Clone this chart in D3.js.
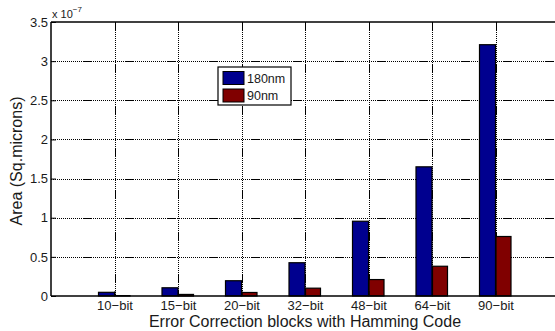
<!DOCTYPE html>
<html>
<head>
<meta charset="utf-8">
<script src="https://cdn.jsdelivr.net/npm/d3@7"></script>
<style>
  html, body { margin: 0; padding: 0; background: #fff; }
  svg { display: block; font-family: "Liberation Sans", Arial, Helvetica, sans-serif; }
</style>
</head>
<body>
<svg id="chart" width="555" height="331"></svg>
<script>
// Area of Hamming-code error correction blocks (units of 1e-7 sq. microns)
const categories = ["10\u2212bit", "15\u2212bit", "20\u2212bit", "32\u2212bit", "48\u2212bit", "64\u2212bit", "90\u2212bit"];
const seriesNames = ["180nm", "90nm"];
const area180 = [0.047, 0.105, 0.195, 0.425, 0.955, 1.65, 3.21];
const area90 = [0.005, 0.02, 0.045, 0.10, 0.21, 0.38, 0.76];
const yTicks = [0, 0.5, 1, 1.5, 2, 2.5, 3, 3.5];
const colors = ["#00008f", "#800000"];

const svg = d3.select("#chart");
const plotLeft = 51, plotTop = 22, plotBottom = 296;

// x positions follow bar indices 1..7 on a 0..8 range
const x = d3.scaleLinear().domain([0, 8]).range([plotLeft, plotLeft + 8 * 63.5]);
const y = d3.scaleLinear().domain([0, 3.5]).range([plotBottom, plotTop]);
const plotRight = x(8);

// dotted grid with a short dash every ~42px
const dotRun = d3.range(16).map(() => "1,1").join(",");
const gridDash = dotRun + ",9,1";
const gridDashV = "9,1," + dotRun;

const grid = svg.append("g").attr("stroke", "#000").attr("stroke-width", 1).attr("fill", "none");
grid.selectAll("line.h").data(yTicks.filter(v => v > 0 && v < 3.5)).join("line")
  .attr("class", "h")
  .attr("stroke-dasharray", gridDash)
  .attr("x1", plotLeft).attr("x2", plotRight)
  .attr("y1", d => Math.round(y(d)) + 0.5).attr("y2", d => Math.round(y(d)) + 0.5);
grid.selectAll("line.v").data(categories).join("line")
  .attr("class", "v")
  .attr("stroke-dasharray", gridDashV)
  .attr("x1", (d, i) => Math.round(x(i + 1)) + 0.5).attr("x2", (d, i) => Math.round(x(i + 1)) + 0.5)
  .attr("y1", plotTop).attr("y2", plotBottom);

// grouped bars
const bw = 16;
const series = [area180, area90];
series.forEach((vals, s) => {
  svg.append("g").selectAll("rect").data(vals).join("rect")
    .attr("x", (d, i) => x(i + 1) + (s === 0 ? -bw : 0.5))
    .attr("y", d => y(d))
    .attr("width", s === 0 ? bw : bw - 1)
    .attr("height", d => plotBottom - y(d))
    .attr("fill", colors[s])
    .attr("stroke", "#000")
    .attr("stroke-width", 1.2);
});

// axes frame
const frame = svg.append("g").attr("stroke", "#000").attr("stroke-width", 1.5);
frame.append("line").attr("x1", plotLeft).attr("x2", plotLeft).attr("y1", plotTop).attr("y2", plotBottom);
frame.append("line").attr("x1", plotLeft).attr("x2", plotRight).attr("y1", plotTop).attr("y2", plotTop);
frame.append("line").attr("x1", plotLeft).attr("x2", plotRight).attr("y1", plotBottom).attr("y2", plotBottom);

// y axis ticks and labels
const yAxis = d3.axisLeft(y).tickValues(yTicks).tickSizeInner(-5).tickSizeOuter(0)
  .tickPadding(3).tickFormat(d => String(d));
const gy = svg.append("g").attr("transform", `translate(${plotLeft},0)`).call(yAxis);
gy.select(".domain").remove();
gy.selectAll("line").attr("stroke", "#000");
gy.selectAll("text").attr("font-size", 13).attr("fill", "#1a1a1a")
  .attr("font-family", "Liberation Sans, Arial, sans-serif");

// x axis ticks and labels
const xAxis = d3.axisBottom(x).tickValues(d3.range(1, 8)).tickSizeInner(-5).tickSizeOuter(0)
  .tickPadding(5).tickFormat(d => categories[d - 1]);
const gx = svg.append("g").attr("transform", `translate(0,${plotBottom})`).call(xAxis);
gx.select(".domain").remove();
gx.selectAll("line").attr("stroke", "#000");
gx.selectAll("text").attr("font-size", 13).attr("fill", "#1a1a1a")
  .attr("font-family", "Liberation Sans, Arial, sans-serif");

// exponent label
const expo = svg.append("text").attr("x", 52).attr("y", 18).attr("font-size", 11).attr("fill", "#1a1a1a");
expo.append("tspan").text("x 10");
expo.append("tspan").attr("dy", -6).attr("font-size", 8).text("\u22127");

// axis titles
svg.append("text").attr("x", 305).attr("y", 327).attr("text-anchor", "middle")
  .attr("font-size", 16).attr("fill", "#1a1a1a").text("Error Correction blocks with Hamming Code");
svg.append("text").attr("transform", "translate(22,161) rotate(-90)").attr("text-anchor", "middle")
  .attr("font-size", 16).attr("fill", "#1a1a1a").text("Area (Sq.microns)");

// legend
const lg = svg.append("g").attr("transform", "translate(218,67)");
lg.append("rect").attr("width", 73).attr("height", 38).attr("fill", "#fff")
  .attr("stroke", "#000").attr("stroke-width", 1.2);
seriesNames.forEach((name, i) => {
  lg.append("rect").attr("x", 5).attr("y", 4.5 + i * 17.5).attr("width", 21).attr("height", 13)
    .attr("fill", colors[i]).attr("stroke", "#000").attr("stroke-width", 1);
  lg.append("text").attr("x", 29).attr("y", 15.5 + i * 17.5).attr("font-size", 12.5)
    .attr("fill", "#1a1a1a").text(name);
});
</script>
</body>
</html>
